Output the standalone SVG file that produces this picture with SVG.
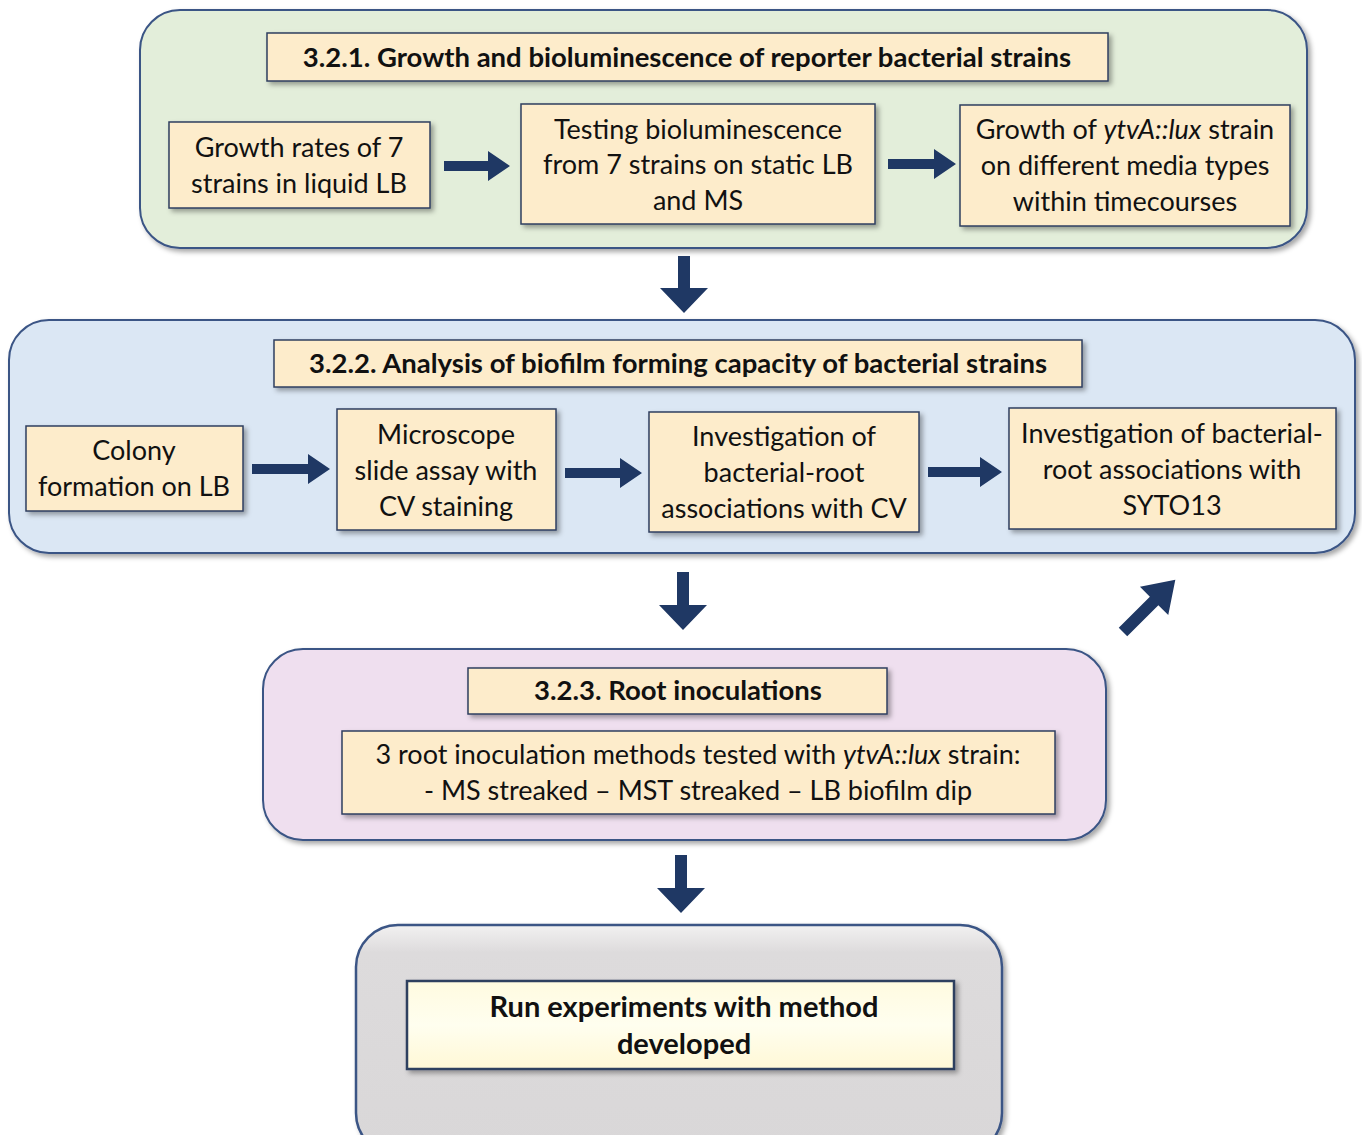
<svg xmlns="http://www.w3.org/2000/svg" width="1362" height="1135" viewBox="0 0 1362 1135">
<defs>
<filter id="sh" x="-5%" y="-10%" width="115%" height="130%">
<feDropShadow dx="3" dy="3" stdDeviation="2.5" flood-color="#000" flood-opacity="0.35"/>
</filter>
<linearGradient id="gray" x1="0" y1="0" x2="0" y2="1">
<stop offset="0" stop-color="#f2f1f1"/>
<stop offset="0.12" stop-color="#dddbdc"/>
<stop offset="1" stop-color="#d9d7d8"/>
</linearGradient>
<linearGradient id="cream" x1="0" y1="0" x2="0" y2="1">
<stop offset="0" stop-color="#fffbe0"/>
<stop offset="0.5" stop-color="#fffeef"/>
<stop offset="1" stop-color="#fff8d6"/>
</linearGradient>
</defs>
<style>
.panel{stroke:#3a5485;stroke-width:2;filter:url(#sh)}
.box{fill:#fdeccb;stroke:#2f3f5f;stroke-width:1.5;filter:url(#sh)}
.t{font-family:Lato,"Noto Sans",sans-serif;font-size:27px;fill:#111;text-anchor:middle}
.b{font-weight:bold;font-size:27.5px}
.big{font-size:29px}
.arr{fill:#1f3864}
</style>
<rect width="1362" height="1135" fill="#fff"/>

<g id="panel1">
<rect class="panel" x="140" y="10" width="1167" height="238" rx="40" fill="#e3eeda"/>
</g>
<g id="title1">
<rect class="box" x="267" y="33" width="841" height="48"/>
<text class="t b" x="687" y="67">3.2.1. Growth and bioluminescence of reporter bacterial strains</text>
</g>
<g id="growth-rates">
<rect class="box" x="169" y="122" width="261" height="86"/>
<text class="t" x="299" y="157">Growth rates of 7</text>
<text class="t" x="299" y="193">strains in liquid LB</text>
</g>
<g id="testing-biolum">
<rect class="box" x="521" y="104" width="354" height="120"/>
<text class="t" x="698" y="139">Testing bioluminescence</text>
<text class="t" x="698" y="174">from 7 strains on static LB</text>
<text class="t" x="698" y="210">and MS</text>
</g>
<g id="growth-ytva">
<rect class="box" x="960" y="105" width="330" height="121"/>
<text class="t" x="1125" y="139">Growth of <tspan font-style="italic">ytvA::lux</tspan> strain</text>
<text class="t" x="1125" y="175">on different media types</text>
<text class="t" x="1125" y="211">within timecourses</text>
</g>

<g id="panel2">
<rect class="panel" x="9" y="320" width="1346" height="233" rx="40" fill="#dbe7f4"/>
</g>
<g id="title2">
<rect class="box" x="274" y="340" width="808" height="47"/>
<text class="t b" x="678" y="373">3.2.2. Analysis of biofilm forming capacity of bacterial strains</text>
</g>
<g id="colony">
<rect class="box" x="26" y="426" width="217" height="85"/>
<text class="t" x="134" y="460">Colony</text>
<text class="t" x="134" y="496">formation on LB</text>
</g>
<g id="microscope">
<rect class="box" x="337" y="409" width="219" height="121"/>
<text class="t" x="446" y="444">Microscope</text>
<text class="t" x="446" y="480">slide assay with</text>
<text class="t" x="446" y="516">CV staining</text>
</g>
<g id="invest-cv">
<rect class="box" x="649" y="412" width="270" height="120"/>
<text class="t" x="784" y="446">Investigation of</text>
<text class="t" x="784" y="482">bacterial-root</text>
<text class="t" x="784" y="518">associations with CV</text>
</g>
<g id="invest-syto">
<rect class="box" x="1009" y="408" width="327" height="121"/>
<text class="t" x="1172" y="443">Investigation of bacterial-</text>
<text class="t" x="1172" y="479">root associations with</text>
<text class="t" x="1172" y="515">SYTO13</text>
</g>

<g id="panel3">
<rect class="panel" x="263" y="649" width="843" height="191" rx="40" fill="#efdfef"/>
</g>
<g id="title3">
<rect class="box" x="468" y="668" width="419" height="46"/>
<text class="t b" x="678" y="700">3.2.3. Root inoculations</text>
</g>
<g id="methods">
<rect class="box" x="342" y="731" width="713" height="83"/>
<text class="t" x="698" y="764">3 root inoculation methods tested with <tspan font-style="italic">ytvA::lux</tspan> strain:</text>
<text class="t" x="698" y="800">- MS streaked – MST streaked – LB biofilm dip</text>
</g>

<g id="panel4">
<rect x="356" y="925" width="646" height="230" rx="42" fill="url(#gray)" stroke="#3a5485" stroke-width="2.5" filter="url(#sh)"/>
</g>
<g id="run">
<rect x="407" y="981" width="547" height="88" fill="url(#cream)" stroke="#2f3f5f" stroke-width="2.5" filter="url(#sh)"/>
<text class="t b big" x="684" y="1017">Run experiments with method</text>
<text class="t b big" x="684" y="1054">developed</text>
</g>

<g id="connectors">
<polygon class="arr" points="444,161 488,161 488,151 510,166 488,181 488,171 444,171"/>
<polygon class="arr" points="888,159 934,159 934,149 956,164 934,179 934,169 888,169"/>
<polygon class="arr" points="252,464 308,464 308,454 330,469 308,484 308,474 252,474"/>
<polygon class="arr" points="565,468 620,468 620,458 642,473 620,488 620,478 565,478"/>
<polygon class="arr" points="928,467 980,467 980,457 1002,472 980,487 980,477 928,477"/>
<polygon class="arr" points="678,256 690,256 690,288 708,288 684,313 660,288 678,288"/>
<polygon class="arr" points="677,572 689,572 689,605 707,605 683,630 659,605 677,605"/>
<polygon class="arr" points="675,855 687,855 687,888 705,888 681,913 657,888 675,888"/>
<polygon class="arr" transform="translate(1123,632) rotate(-45)" points="0,-6 44,-6 44,-20 74,0 44,20 44,6 0,6"/>
</g>
</svg>
